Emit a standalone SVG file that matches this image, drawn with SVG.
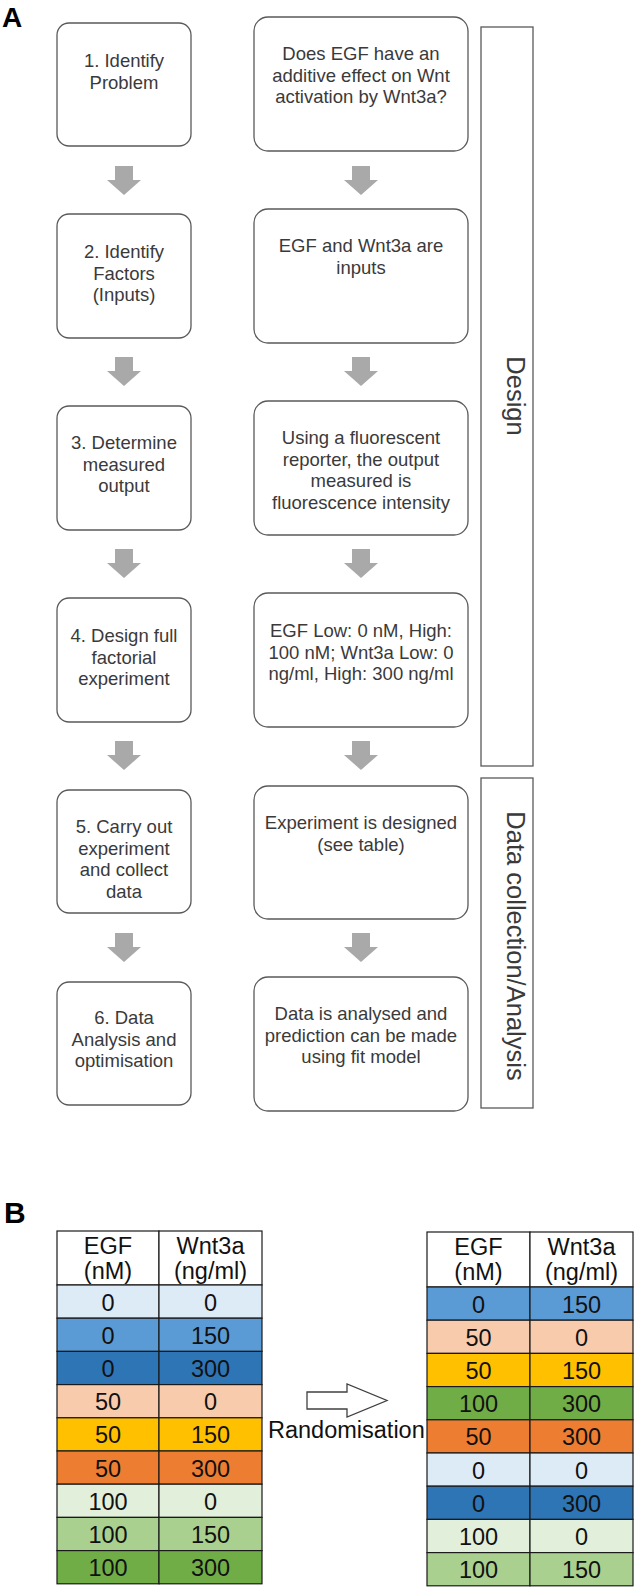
<svg xmlns="http://www.w3.org/2000/svg" width="634" height="1587" viewBox="0 0 634 1587">
<style>
.box{fill:#fff;stroke:#595959;stroke-width:1.3}
.bar{fill:#fff;stroke:#595959;stroke-width:1.3}
.t{font-family:"Liberation Sans",Arial,sans-serif;font-size:18.5px;fill:#3a3a3a;text-anchor:middle}
.vt{font-family:"Liberation Sans",Arial,sans-serif;font-size:25.5px;fill:#3a3a3a;text-anchor:middle}
.lbl{font-family:"Liberation Sans",Arial,sans-serif;font-weight:bold;fill:#000}
.arr{fill:#a9a9a9}
.cell{stroke:#1a1a1a;stroke-width:1.2}
.tt{font-family:"Liberation Sans",Arial,sans-serif;font-size:23.5px;fill:#111;text-anchor:middle}
.rnd{fill:#fff;stroke:#404040;stroke-width:1.3}
</style>
<defs>
<path id="dn" d="M-9,0 H9 V14 H17 L0,29 L-17,14 H-9 Z"/>
</defs>
<rect width="634" height="1587" fill="#fff"/>
<text class="lbl" x="2" y="27" font-size="28">A</text>
<text class="lbl" x="4" y="1223" font-size="30">B</text>

<g id="phase-design"><rect class="bar" x="481" y="27" width="52" height="739"/><text class="vt" transform="translate(507,396) rotate(90)">Design</text></g>
<g id="phase-data"><rect class="bar" x="481" y="778" width="52" height="330"/><text class="vt" transform="translate(507,946) rotate(90)">Data collection/Analysis</text></g>

<g id="step1"><rect class="box" x="57" y="23" width="134" height="123" rx="12"/><text class="t" x="124" y="67">1. Identify<tspan x="124" dy="21.5">Problem</tspan></text></g>
<g id="step2"><rect class="box" x="57" y="214" width="134" height="124" rx="12"/><text class="t" x="124" y="258">2. Identify<tspan x="124" dy="21.5">Factors</tspan><tspan x="124" dy="21.5">(Inputs)</tspan></text></g>
<g id="step3"><rect class="box" x="57" y="406" width="134" height="124" rx="12"/><text class="t" x="124" y="449">3. Determine<tspan x="124" dy="21.5">measured</tspan><tspan x="124" dy="21.5">output</tspan></text></g>
<g id="step4"><rect class="box" x="57" y="598" width="134" height="124" rx="12"/><text class="t" x="124" y="642">4. Design full<tspan x="124" dy="21.5">factorial</tspan><tspan x="124" dy="21.5">experiment</tspan></text></g>
<g id="step5"><rect class="box" x="57" y="790" width="134" height="123" rx="12"/><text class="t" x="124" y="833">5. Carry out<tspan x="124" dy="21.5">experiment</tspan><tspan x="124" dy="21.5">and collect</tspan><tspan x="124" dy="21.5">data</tspan></text></g>
<g id="step6"><rect class="box" x="57" y="982" width="134" height="123" rx="12"/><text class="t" x="124" y="1024">6. Data<tspan x="124" dy="21.5">Analysis and</tspan><tspan x="124" dy="21.5">optimisation</tspan></text></g>

<g id="ex1"><rect class="box" x="254" y="17" width="214" height="134" rx="14"/><text class="t" x="361" y="60">Does EGF have an<tspan x="361" dy="21.5">additive effect on Wnt</tspan><tspan x="361" dy="21.5">activation by Wnt3a?</tspan></text></g>
<g id="ex2"><rect class="box" x="254" y="209" width="214" height="134" rx="14"/><text class="t" x="361" y="252">EGF and Wnt3a are<tspan x="361" dy="21.5">inputs</tspan></text></g>
<g id="ex3"><rect class="box" x="254" y="401" width="214" height="134" rx="14"/><text class="t" x="361" y="444">Using a fluorescent<tspan x="361" dy="21.5">reporter, the output</tspan><tspan x="361" dy="21.5">measured is</tspan><tspan x="361" dy="21.5">fluorescence intensity</tspan></text></g>
<g id="ex4"><rect class="box" x="254" y="593" width="214" height="134" rx="14"/><text class="t" x="361" y="637">EGF Low: 0 nM, High:<tspan x="361" dy="21.5">100 nM; Wnt3a Low: 0</tspan><tspan x="361" dy="21.5">ng/ml, High: 300 ng/ml</tspan></text></g>
<g id="ex5"><rect class="box" x="254" y="786" width="214" height="133" rx="14"/><text class="t" x="361" y="829">Experiment is designed<tspan x="361" dy="21.5">(see table)</tspan></text></g>
<g id="ex6"><rect class="box" x="254" y="977" width="214" height="134" rx="14"/><text class="t" x="361" y="1020">Data is analysed and<tspan x="361" dy="21.5">prediction can be made</tspan><tspan x="361" dy="21.5">using fit model</tspan></text></g>

<g id="connectors">
<use href="#dn" class="arr" x="124" y="166"/>
<use href="#dn" class="arr" x="124" y="357"/>
<use href="#dn" class="arr" x="124" y="549"/>
<use href="#dn" class="arr" x="124" y="741"/>
<use href="#dn" class="arr" x="124" y="933"/>
<use href="#dn" class="arr" x="361" y="166"/>
<use href="#dn" class="arr" x="361" y="357"/>
<use href="#dn" class="arr" x="361" y="549"/>
<use href="#dn" class="arr" x="361" y="741"/>
<use href="#dn" class="arr" x="361" y="933"/>
<polygon class="rnd" points="307,1392 347,1392 347,1384 387,1400.5 347,1417 347,1409 307,1409"/>
</g>
<text class="tt" x="268" y="1438" style="text-anchor:start" font-size="23">Randomisation</text>

<g id="table-ordered">
<rect class="cell" x="57" y="1231" width="102" height="54" fill="#fff"/>
<rect class="cell" x="159" y="1231" width="103" height="54" fill="#fff"/>
<text class="tt" x="108" y="1254">EGF<tspan x="108" dy="25">(nM)</tspan></text>
<text class="tt" x="210.5" y="1254">Wnt3a<tspan x="210.5" dy="25">(ng/ml)</tspan></text>
<g>
<rect class="cell" x="57" y="1285" width="102" height="33.2" fill="#DDEBF7"/><rect class="cell" x="159" y="1285" width="103" height="33.2" fill="#DDEBF7"/>
<rect class="cell" x="57" y="1318.2" width="102" height="33.2" fill="#5B9BD5"/><rect class="cell" x="159" y="1318.2" width="103" height="33.2" fill="#5B9BD5"/>
<rect class="cell" x="57" y="1351.4" width="102" height="33.2" fill="#2E75B6"/><rect class="cell" x="159" y="1351.4" width="103" height="33.2" fill="#2E75B6"/>
<rect class="cell" x="57" y="1384.6" width="102" height="33.2" fill="#F8CBAD"/><rect class="cell" x="159" y="1384.6" width="103" height="33.2" fill="#F8CBAD"/>
<rect class="cell" x="57" y="1417.8" width="102" height="33.2" fill="#FFC000"/><rect class="cell" x="159" y="1417.8" width="103" height="33.2" fill="#FFC000"/>
<rect class="cell" x="57" y="1451" width="102" height="33.2" fill="#ED7D31"/><rect class="cell" x="159" y="1451" width="103" height="33.2" fill="#ED7D31"/>
<rect class="cell" x="57" y="1484.2" width="102" height="33.2" fill="#E2EFDA"/><rect class="cell" x="159" y="1484.2" width="103" height="33.2" fill="#E2EFDA"/>
<rect class="cell" x="57" y="1517.4" width="102" height="33.2" fill="#A9D08E"/><rect class="cell" x="159" y="1517.4" width="103" height="33.2" fill="#A9D08E"/>
<rect class="cell" x="57" y="1550.6" width="102" height="33.2" fill="#70AD47"/><rect class="cell" x="159" y="1550.6" width="103" height="33.2" fill="#70AD47"/>
</g>
<text class="tt" x="108" y="1310.5">0</text><text class="tt" x="210.5" y="1310.5">0</text>
<text class="tt" x="108" y="1343.7">0</text><text class="tt" x="210.5" y="1343.7">150</text>
<text class="tt" x="108" y="1376.9">0</text><text class="tt" x="210.5" y="1376.9">300</text>
<text class="tt" x="108" y="1410.1">50</text><text class="tt" x="210.5" y="1410.1">0</text>
<text class="tt" x="108" y="1443.3">50</text><text class="tt" x="210.5" y="1443.3">150</text>
<text class="tt" x="108" y="1476.5">50</text><text class="tt" x="210.5" y="1476.5">300</text>
<text class="tt" x="108" y="1509.7">100</text><text class="tt" x="210.5" y="1509.7">0</text>
<text class="tt" x="108" y="1542.9">100</text><text class="tt" x="210.5" y="1542.9">150</text>
<text class="tt" x="108" y="1576.1">100</text><text class="tt" x="210.5" y="1576.1">300</text>
</g>

<g id="table-random">
<rect class="cell" x="427" y="1232" width="103" height="55" fill="#fff"/>
<rect class="cell" x="530" y="1232" width="103" height="55" fill="#fff"/>
<text class="tt" x="478.5" y="1255">EGF<tspan x="478.5" dy="25">(nM)</tspan></text>
<text class="tt" x="581.5" y="1255">Wnt3a<tspan x="581.5" dy="25">(ng/ml)</tspan></text>
<g>
<rect class="cell" x="427" y="1287" width="103" height="33.2" fill="#5B9BD5"/><rect class="cell" x="530" y="1287" width="103" height="33.2" fill="#5B9BD5"/>
<rect class="cell" x="427" y="1320.2" width="103" height="33.2" fill="#F8CBAD"/><rect class="cell" x="530" y="1320.2" width="103" height="33.2" fill="#F8CBAD"/>
<rect class="cell" x="427" y="1353.4" width="103" height="33.2" fill="#FFC000"/><rect class="cell" x="530" y="1353.4" width="103" height="33.2" fill="#FFC000"/>
<rect class="cell" x="427" y="1386.6" width="103" height="33.2" fill="#70AD47"/><rect class="cell" x="530" y="1386.6" width="103" height="33.2" fill="#70AD47"/>
<rect class="cell" x="427" y="1419.8" width="103" height="33.2" fill="#ED7D31"/><rect class="cell" x="530" y="1419.8" width="103" height="33.2" fill="#ED7D31"/>
<rect class="cell" x="427" y="1453" width="103" height="33.2" fill="#DDEBF7"/><rect class="cell" x="530" y="1453" width="103" height="33.2" fill="#DDEBF7"/>
<rect class="cell" x="427" y="1486.2" width="103" height="33.2" fill="#2E75B6"/><rect class="cell" x="530" y="1486.2" width="103" height="33.2" fill="#2E75B6"/>
<rect class="cell" x="427" y="1519.4" width="103" height="33.2" fill="#E2EFDA"/><rect class="cell" x="530" y="1519.4" width="103" height="33.2" fill="#E2EFDA"/>
<rect class="cell" x="427" y="1552.6" width="103" height="33.2" fill="#A9D08E"/><rect class="cell" x="530" y="1552.6" width="103" height="33.2" fill="#A9D08E"/>
</g>
<text class="tt" x="478.5" y="1312.5">0</text><text class="tt" x="581.5" y="1312.5">150</text>
<text class="tt" x="478.5" y="1345.7">50</text><text class="tt" x="581.5" y="1345.7">0</text>
<text class="tt" x="478.5" y="1378.9">50</text><text class="tt" x="581.5" y="1378.9">150</text>
<text class="tt" x="478.5" y="1412.1">100</text><text class="tt" x="581.5" y="1412.1">300</text>
<text class="tt" x="478.5" y="1445.3">50</text><text class="tt" x="581.5" y="1445.3">300</text>
<text class="tt" x="478.5" y="1478.5">0</text><text class="tt" x="581.5" y="1478.5">0</text>
<text class="tt" x="478.5" y="1511.7">0</text><text class="tt" x="581.5" y="1511.7">300</text>
<text class="tt" x="478.5" y="1544.9">100</text><text class="tt" x="581.5" y="1544.9">0</text>
<text class="tt" x="478.5" y="1578.1">100</text><text class="tt" x="581.5" y="1578.1">150</text>
</g>
</svg>
